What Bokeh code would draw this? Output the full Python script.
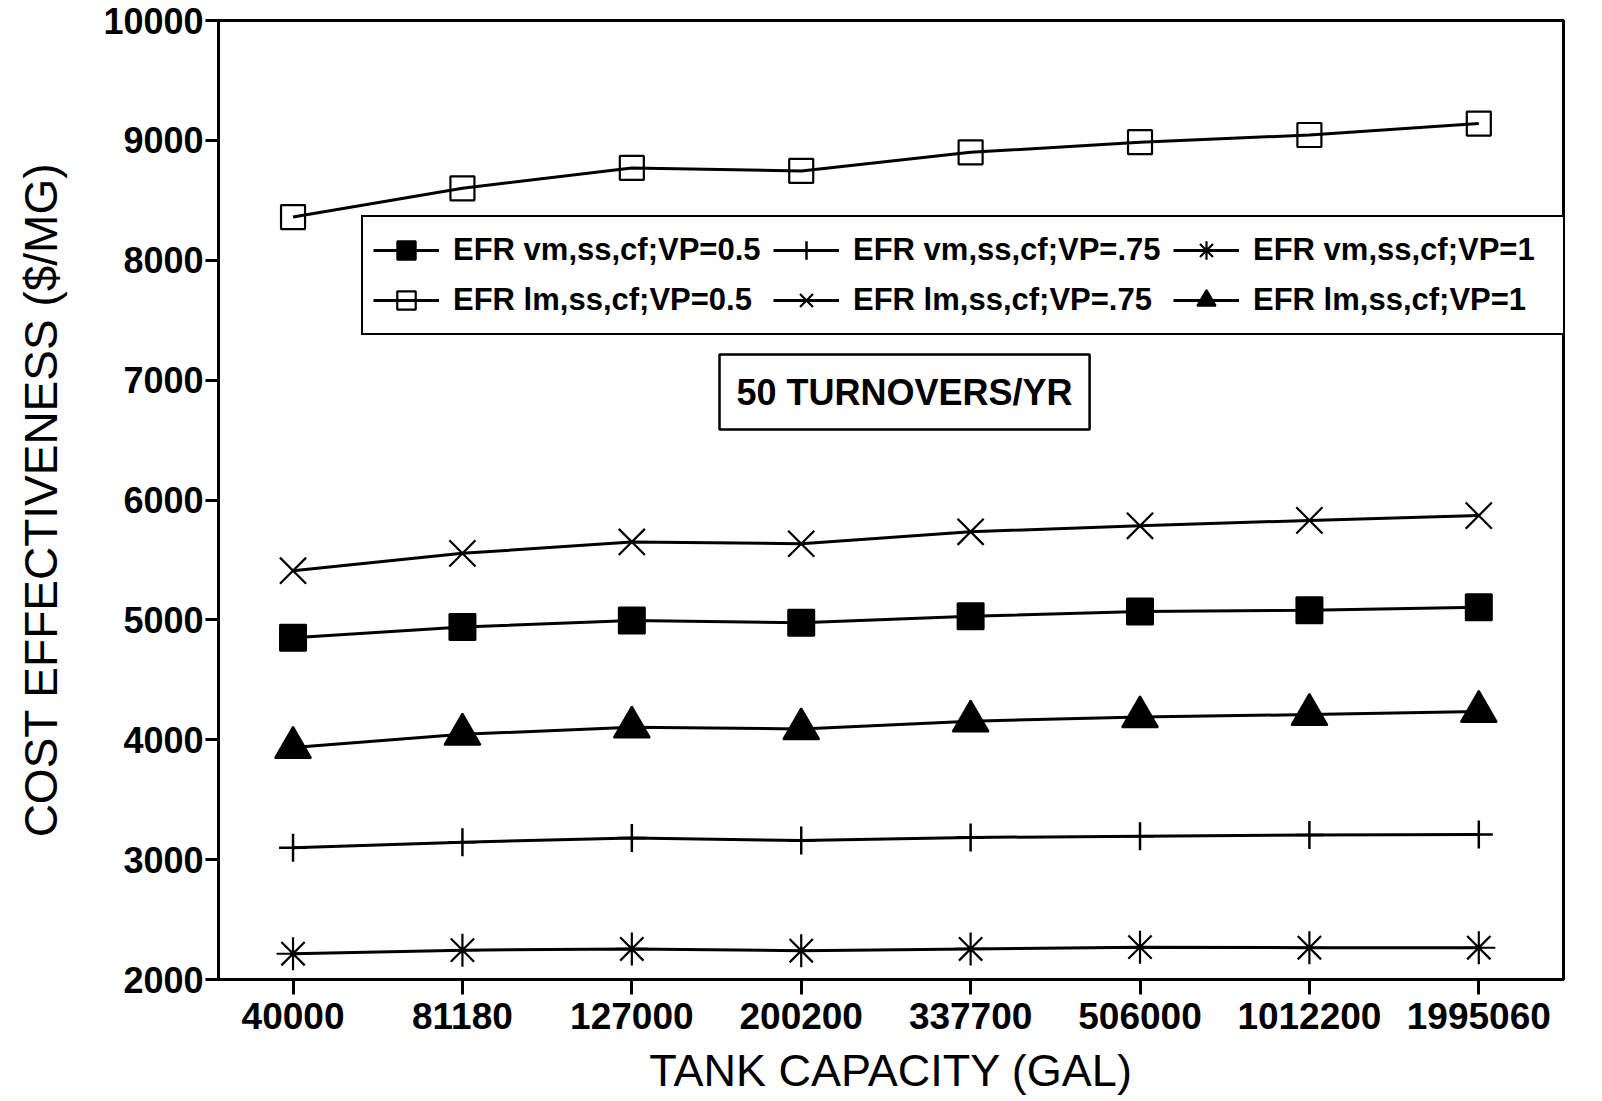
from bokeh.plotting import figure
from bokeh.models import Range1d, Legend, LegendItem, Label, FixedTicker
from bokeh.embed import file_html
from bokeh.resources import INLINE

# ---- data ----
categories = ["40000", "81180", "127000", "200200", "337700", "506000", "1012200", "1995060"]
vm_05 = [4850, 4940, 4995, 4975, 5030, 5070, 5080, 5105]
vm_075 = [3100, 3145, 3180, 3160, 3185, 3195, 3205, 3210]
vm_1 = [2215, 2245, 2255, 2240, 2255, 2270, 2265, 2265]
lm_05 = [8360, 8600, 8770, 8745, 8900, 8985, 9045, 9140]
lm_075 = [5410, 5555, 5650, 5635, 5735, 5785, 5830, 5870]
lm_1 = [3935, 4045, 4105, 4090, 4155, 4190, 4210, 4235]
y_ticks = [2000, 3000, 4000, 5000, 6000, 7000, 8000, 9000, 10000]
series_names = ["EFR vm,ss,cf;VP=0.5", "EFR vm,ss,cf;VP=.75", "EFR vm,ss,cf;VP=1",
                "EFR lm,ss,cf;VP=0.5", "EFR lm,ss,cf;VP=.75", "EFR lm,ss,cf;VP=1"]
note_text = "50 TURNOVERS/YR"

xs = list(range(len(categories)))

W, H = 1590, 1101
p = figure(width=W, height=H, output_backend="svg", toolbar_location=None,
           x_range=Range1d(-0.44, 7.5), y_range=Range1d(2000, 10000),
           min_border_left=218, min_border_right=W - 1563, min_border_top=20,
           min_border_bottom=H - 979, background_fill_color="white",
           border_fill_color="white")
p.grid.visible = False
p.outline_line_color = "black"
p.outline_line_width = 3
p.outline_line_alpha = 1.0

FONT = "Liberation Sans"

# axes
p.xaxis.ticker = FixedTicker(ticks=xs)
p.xaxis.major_label_overrides = {i: c for i, c in enumerate(categories)}
p.yaxis.ticker = FixedTicker(ticks=y_ticks)
for ax in (p.xaxis[0], p.yaxis[0]):
    ax.axis_line_width = 3
    ax.axis_line_color = "black"
    ax.major_tick_line_width = 3
    ax.major_tick_in = 0
    ax.minor_tick_line_color = None
    ax.major_label_text_font = FONT
    ax.major_label_text_font_style = "bold"
    ax.major_label_text_color = "black"
    ax.axis_label_text_font = FONT
    ax.axis_label_text_font_style = "normal"
    ax.axis_label_text_color = "black"
p.xaxis.major_tick_out = 15
p.xaxis.major_label_standoff = 8
p.xaxis.major_label_text_font_size = "37px"
p.xaxis.axis_label = "TANK CAPACITY (GAL)"
p.xaxis.axis_label_text_font_size = "45px"
p.xaxis.axis_label_standoff = 13
p.yaxis.major_tick_out = 13
p.yaxis.major_label_standoff = 2
p.yaxis.major_label_text_font_size = "36px"
p.yaxis.axis_label = "COST EFFECTIVENESS ($/MG)"
p.yaxis.axis_label_text_font_size = "46px"
p.yaxis.axis_label_standoff = 33

LW = 3
items = []

def add(vals, marker, size, name, fill="black", mlw=2):
    r_line = p.line(xs, vals, line_color="black", line_width=LW)
    r_m = p.scatter(xs, vals, marker=marker, size=size, line_color="black",
                    fill_color=fill, line_width=mlw)
    items.append(LegendItem(label=name, renderers=[r_line, r_m]))

add(vm_05, "square", 26, series_names[0])
add(vm_075, "cross", 28, series_names[1], mlw=2.5)
add(vm_1, "asterisk", 33, series_names[2], mlw=2.2)
add(lm_05, "square", 24, series_names[3], fill=None, mlw=2.2)
add(lm_075, "x", 37, series_names[4], mlw=2.2)
add(lm_1, "triangle", 36, series_names[5])

legend = Legend(items=items, orientation="horizontal", ncols=3,
                location=(143, 644),
                label_text_font=FONT, label_text_font_style="bold",
                label_text_font_size="31px", label_text_color="black",
                glyph_width=66, glyph_height=46, label_height=46,
                label_width=316, label_standoff=14, spacing=4, padding=10,
                margin=0, border_line_color="black", border_line_width=2.5,
                border_line_alpha=1.0,
                background_fill_color="white", background_fill_alpha=1.0)
p.add_layout(legend, "center")

note = Label(x=3.61, y=6900, text=note_text, text_align="center",
             text_baseline="middle", text_font=FONT, text_font_style="bold",
             text_font_size="36px", text_color="black",
             border_line_color="black", border_line_width=2.5,
             background_fill_color="white", padding=17)
p.add_layout(note)

open("out.html", "w").write(file_html(p, INLINE))
